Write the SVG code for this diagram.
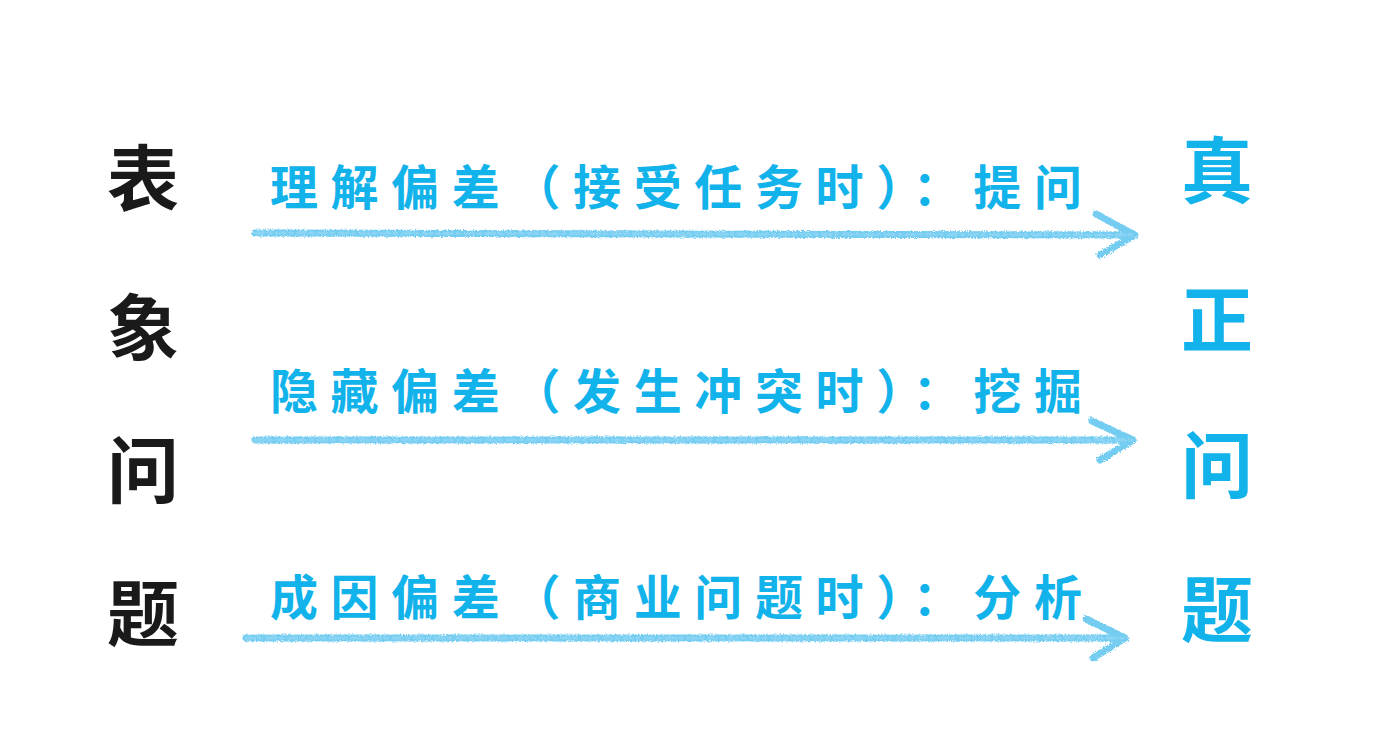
<svg xmlns="http://www.w3.org/2000/svg" width="1376" height="754" viewBox="0 0 1376 754">
<style>
.big{font-family:"Noto Sans CJK SC",sans-serif;font-weight:700;font-size:72px;text-anchor:middle;dominant-baseline:central}
.left{fill:#1a1a1a}
.right{fill:#12b2ea}
.lbl{font-family:"Noto Sans CJK SC",sans-serif;font-weight:700;font-size:48px;fill:#12b2ea;dominant-baseline:central}
.chalk{fill:none;stroke:#5cc4ef;stroke-width:7;stroke-linecap:round;stroke-linejoin:round;opacity:0.85}
.chalk2{fill:none;stroke:#8fd6f4;stroke-width:3;stroke-dasharray:9 4 3 5;stroke-linecap:round;opacity:0.9}
</style>
<defs>
<filter id="rough" x="-5%" y="-50%" width="110%" height="200%">
<feTurbulence type="fractalNoise" baseFrequency="0.6" numOctaves="2" seed="3"/>
<feDisplacementMap in="SourceGraphic" scale="4"/>
</filter>
</defs>
<rect width="1376" height="754" fill="#ffffff"/>
<g id="left-column">
<text class="big left" x="143" y="173">表</text>
<text class="big left" x="143" y="322">象</text>
<text class="big left" x="143" y="465">问</text>
<text class="big left" x="143" y="608">题</text>
</g>
<g id="right-column">
<text class="big right" x="1217" y="165">真</text>
<text class="big right" x="1217" y="314">正</text>
<text class="big right" x="1217" y="460">问</text>
<text class="big right" x="1217" y="604">题</text>
</g>
<g id="label-1"><text class="lbl" x="270" y="184" textLength="812" lengthAdjust="spacing">理解偏差（接受任务时）：提问</text></g>
<g id="label-2"><text class="lbl" x="270" y="388" textLength="812" lengthAdjust="spacing">隐藏偏差（发生冲突时）：挖掘</text></g>
<g id="label-3"><text class="lbl" x="270" y="594" textLength="812" lengthAdjust="spacing">成因偏差（商业问题时）：分析</text></g>
<g id="connectors" filter="url(#rough)">
<path class="chalk" d="M255 233 L1135 235 M1096 214 L1135 235 L1100 255"/>
<path class="chalk2" d="M255 233 L1135 235"/>
<path class="chalk" d="M255 440 L1133 440 M1092 421 L1133 440 L1100 460"/>
<path class="chalk2" d="M255 440 L1133 440"/>
<path class="chalk" d="M246 638 L1125 638 M1086 619 L1125 638 L1093 658"/>
<path class="chalk2" d="M246 638 L1125 638"/>
</g>
</svg>
